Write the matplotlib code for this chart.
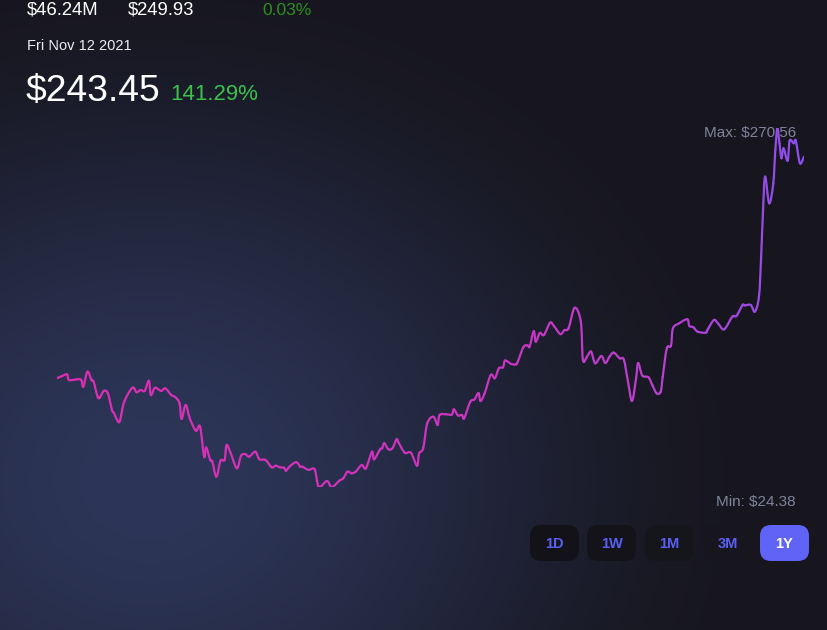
import numpy as np
import matplotlib.pyplot as plt
from matplotlib.colors import to_rgb, LinearSegmentedColormap
from matplotlib.patches import FancyBboxPatch, PathPatch
from matplotlib.path import Path

# ---------- data (day offset over one year, price in $) ----------
days = [0, 2, 5, 6, 10, 12, 13, 15, 17, 18, 20, 21, 23, 25, 27, 28, 30, 31, 33, 37,
        39, 41, 43, 45, 46, 48, 51, 53, 56, 58, 60, 61, 63, 65, 68, 70, 72, 73, 75, 76,
        78, 80, 82, 83, 85, 88, 90, 92, 94, 97, 99, 102, 105, 107, 109, 111, 112, 114, 117, 119,
        120, 123, 126, 128, 132, 134, 136, 138, 140, 142, 144, 146, 149, 151, 154, 155, 158, 159, 160, 162,
        164, 166, 167, 170, 173, 176, 177, 179, 181, 184, 186, 187, 190, 193, 194, 196, 198, 199, 202, 204,
        206, 207, 209, 212, 214, 216, 218, 219, 222, 224, 225, 228, 230, 231, 233, 234, 236, 238, 241, 243,
        246, 248, 250, 253, 256, 257, 259, 261, 263, 266, 268, 270, 272, 275, 277, 279, 281, 283, 284, 286,
        289, 291, 293, 295, 296, 298, 300, 301, 304, 308, 309, 311, 313, 317, 318, 321, 323, 326, 330, 332,
        335, 336, 339, 341, 343, 344, 345, 346, 348, 350, 351, 352, 353, 354, 355, 357, 358, 360, 361, 363,
        365]
prices = [99.0, 100.1, 101.7, 97.8, 98.3, 97.8, 93.2, 103.5, 97.8, 96.7, 86.4, 85.7, 90.3, 88.7, 77.2, 75.0, 69.2, 70.4, 82.9, 92.5,
          89.4, 91.0, 90.3, 97.3, 87.5, 92.5, 90.3, 92.1, 87.5, 86.0, 81.8, 71.1, 80.7, 71.5, 63.0, 65.9, 45.2, 51.5, 42.9, 41.8,
          31.5, 42.4, 42.9, 53.2, 47.5, 37.2, 45.7, 47.0, 45.2, 48.6, 43.4, 42.9, 37.9, 39.0, 37.9, 37.6, 35.6, 38.8, 41.4, 38.3,
          38.3, 36.1, 36.5, 24.6, 28.5, 24.38, 25.8, 28.7, 30.4, 34.9, 33.8, 34.9, 39.5, 37.2, 48.6, 43.4, 50.3, 51.0, 54.4, 50.3,
          51.0, 57.1, 54.8, 47.9, 47.9, 39.0, 47.5, 51.0, 68.1, 72.6, 67.0, 73.8, 74.3, 74.1, 77.7, 73.5, 73.8, 71.5, 82.9, 84.4,
          88.9, 83.4, 88.6, 101.3, 99.0, 105.9, 106.5, 111.2, 108.8, 108.5, 109.7, 120.5, 121.5, 120.8, 131.3, 124.1, 130.1, 128.7, 137.2, 134.6,
          129.3, 132.1, 133.3, 147.4, 137.8, 111.6, 113.8, 117.3, 109.3, 114.3, 109.5, 113.8, 116.6, 112.7, 111.8, 97.1, 83.4, 99.2, 109.5, 100.9,
          99.7, 94.1, 88.7, 89.8, 100.1, 119.6, 121.2, 133.3, 136.7, 139.5, 134.9, 134.0, 131.0, 130.3, 132.6, 139.0, 136.7, 132.6, 141.3, 141.8,
          149.3, 149.0, 149.3, 144.7, 155.0, 180.2, 214.5, 237.4, 219.1, 232.8, 255.7, 270.56, 260.3, 250.0, 256.8, 248.3, 262.1, 260.3, 262.1, 246.6,
          251.1]

header_values = ["$46.24M", "$249.93", "0.03%"]
date_label = "Fri Nov 12 2021"
price_label = "$243.45"
change_label = "141.29%"
range_buttons = ["1D", "1W", "1M", "3M", "1Y"]
active_button = "1Y"

W, H = 827, 630
fig = plt.figure(figsize=(W / 100, H / 100), dpi=100)

# ---------- background gradient ----------
bg = fig.add_axes([0, 0, 1, 1])
yy, xx = np.mgrid[0:H, 0:W]
d = np.sqrt(((xx - 150) / 640.0) ** 2 + ((yy - 480) / 540.0) ** 2)
t = np.clip(d, 0, 1)
t = t * t * (3 - 2 * t)
blue = np.array(to_rgb("#2d3659"))
dark = np.array(to_rgb("#17161f"))
img = blue[None, None, :] * (1 - t[..., None]) + dark[None, None, :] * t[..., None]
bg.imshow(img, extent=[0, W, H, 0], aspect="auto")
bg.set_xlim(0, W)
bg.set_ylim(H, 0)
bg.axis("off")

# ---------- price line (smoothed curve, colour fading along time) ----------
ax = fig.add_axes([56.7 / W, (H - 487) / H, (804 - 56.7) / W, (487 - 128.3) / H])
ax.set_xlim(min(days), max(days))
ax.set_ylim(min(prices), max(prices))
ax.patch.set_alpha(0)
ax.axis("off")
ax.set_zorder(3)

cmap = LinearSegmentedColormap.from_list(
    "ln", [(0, "#dc2eb2"), (0.6, "#c936c0"), (0.82, "#b83fd2"), (1, "#8a50ee")])
pts = np.column_stack([days, prices]).astype(float)
n = len(pts)
for i in range(n - 1):
    p0 = pts[max(i - 1, 0)]
    p1 = pts[i]
    p2 = pts[i + 1]
    p3 = pts[min(i + 2, n - 1)]
    c1 = p1 + (p2 - p0) / 6
    c2 = p2 - (p3 - p1) / 6
    path = Path([p1, c1, c2, p2], [Path.MOVETO, Path.CURVE4, Path.CURVE4, Path.CURVE4])
    col = cmap((p1[0] + p2[0]) / 2 / max(days))
    ax.add_patch(PathPatch(path, fc="none", ec=col, lw=1.6, capstyle="round", joinstyle="round"))

# ---------- header texts ----------
font = "Liberation Sans"
bg.text(27, 15, header_values[0], color="white", fontsize=13.3, family=font, va="baseline")
bg.text(128, 15, header_values[1], color="white", fontsize=13.3, family=font, va="baseline")
bg.text(262, 15, header_values[2], color="#2e8f22", fontsize=12.5, family=font, va="baseline")
bg.text(27, 50, date_label, color="#ececf2", fontsize=10.5, family=font, va="baseline")
bg.text(26, 101, price_label, color="white", fontsize=26.8, family=font, va="baseline")
bg.text(170, 100, change_label, color="#3bc24b", fontsize=16, family=font, va="baseline")

# ---------- min / max labels ----------
bg.text(796, 137, "Max: $%.2f" % max(prices), color="#80849b", fontsize=11, family=font,
        ha="right", va="baseline")
bg.text(796, 506, "Min: $%.2f" % min(prices), color="#80849b", fontsize=11, family=font,
        ha="right", va="baseline")

# ---------- range buttons ----------
btn_left = [530, 587, 645, 703, 760]
btn_bg = ["#121218", "#131319", "#15151c", "#17161f", "#5f63f6"]
for lbl, x0, fc in zip(range_buttons, btn_left, btn_bg):
    on = lbl == active_button
    box = FancyBboxPatch((x0, 525), 49, 36, boxstyle="round,pad=0,rounding_size=11",
                         fc=fc, ec="none", zorder=2)
    bg.add_patch(box)
    bg.text(x0 + 24.5, 543.5, lbl, color="white" if on else "#5a5ef2", fontsize=10.5,
            fontweight="bold", family=font, ha="center", va="center", zorder=3)

fig.savefig("out.png", dpi=100)
